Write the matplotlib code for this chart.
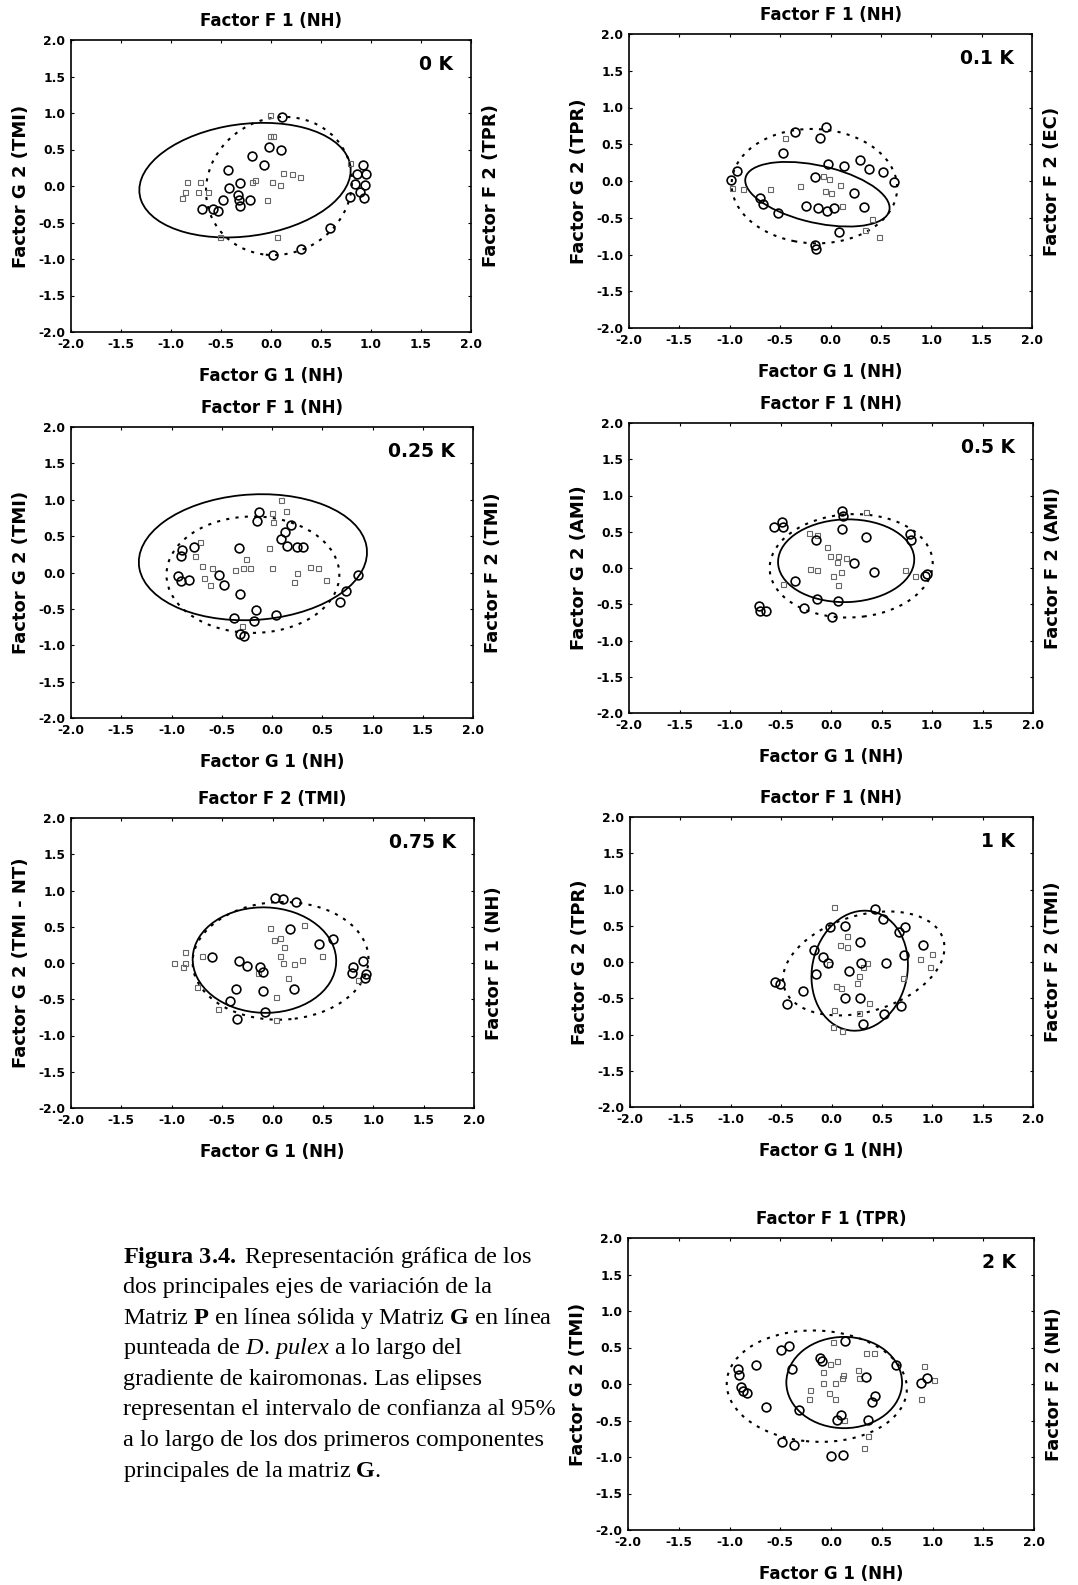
import matplotlib
matplotlib.use("Agg")
import matplotlib.pyplot as plt
from matplotlib.patches import Ellipse
from matplotlib.ticker import FormatStrFormatter, MultipleLocator
from matplotlib.transforms import offset_copy

plt.rcParams['axes.unicode_minus'] = False
plt.rcParams['mathtext.fontset'] = 'custom'
plt.rcParams['mathtext.rm'] = 'Liberation Serif'
plt.rcParams['mathtext.it'] = 'Liberation Serif:italic'
plt.rcParams['mathtext.bf'] = 'Liberation Serif:bold'

# panel tags and axis titles
tags = ['0 K', '0.1 K', '0.25 K', '0.5 K', '0.75 K', '1 K', '2 K']
top_labels = ['Factor F 1 (NH)', 'Factor F 1 (NH)', 'Factor F 1 (NH)', 'Factor F 1 (NH)',
              'Factor F 2 (TMI)', 'Factor F 1 (NH)', 'Factor F 1 (TPR)']
left_labels = ['Factor G 2 (TMI)', 'Factor G 2 (TPR)', 'Factor G 2 (TMI)', 'Factor G 2 (AMI)',
               'Factor G 2 (TMI - NT)', 'Factor G 2 (TPR)', 'Factor G 2 (TMI)']
right_labels = ['Factor F 2 (TPR)', 'Factor F 2 (EC)', 'Factor F 2 (TMI)', 'Factor F 2 (AMI)',
                'Factor F 1 (NH)', 'Factor F 2 (TMI)', 'Factor F 2 (NH)']
bottom_label = 'Factor G 1 (NH)'

# ellipses: (center x, center y, width, height, angle)
solid_ell = [(-0.26, 0.08, 2.15, 1.52, 15), (-0.13, -0.18, 1.50, 0.76, -20),
             (-0.19, 0.21, 2.28, 1.72, 8), (0.15, 0.10, 1.35, 1.14, 5),
             (-0.08, 0.04, 1.42, 1.46, 20), (0.28, -0.12, 0.95, 1.66, -5),
             (0.13, 0.02, 1.14, 1.25, 0)]
dotted_ell = [(0.08, 0.0, 1.45, 1.90, -8), (-0.16, -0.07, 1.65, 1.55, -15),
              (-0.19, -0.03, 1.72, 1.60, 0), (0.20, 0.03, 1.62, 1.42, 10),
              (0.08, 0.03, 1.75, 1.62, 10), (0.32, -0.02, 1.75, 1.25, 35),
              (-0.14, -0.03, 1.78, 1.52, -8)]

# circles per panel
circ_0k = [(0.11, 0.94), (-0.02, 0.54), (0.10, 0.50), (-0.19, 0.41), (-0.07, 0.29), (-0.43, 0.22),
           (-0.31, 0.04), (-0.42, -0.03), (-0.33, -0.13), (-0.32, -0.19), (-0.31, -0.28), (-0.21, -0.19),
           (-0.48, -0.19), (-0.58, -0.32), (-0.53, -0.34), (-0.69, -0.31), (0.92, 0.29), (0.95, 0.17),
           (0.86, 0.17), (0.84, 0.03), (0.94, 0.01), (0.89, -0.08), (0.93, -0.17), (0.79, -0.15),
           (0.59, -0.58), (0.30, -0.86), (0.02, -0.95)]
circ_01k = [(-0.04, 0.73), (-0.10, 0.58), (-0.35, 0.67), (-0.47, 0.38), (-0.93, 0.14), (-0.99, 0.02),
            (-0.02, 0.23), (0.13, 0.21), (0.29, 0.28), (0.38, 0.16), (0.52, 0.12), (0.63, -0.01),
            (-0.15, 0.06), (0.23, -0.17), (0.33, -0.36), (-0.24, -0.34), (-0.12, -0.37), (-0.03, -0.41),
            (0.03, -0.37), (-0.70, -0.23), (-0.67, -0.31), (-0.52, -0.44), (0.08, -0.69), (-0.15, -0.87),
            (-0.14, -0.93)]
circ_025k = [(-0.90, 0.31), (-0.91, 0.23), (-0.78, 0.35), (-0.94, -0.05), (-0.91, -0.12), (-0.83, -0.10),
             (-0.53, -0.03), (-0.48, -0.17), (-0.33, 0.33), (-0.32, -0.29), (-0.13, 0.83), (-0.15, 0.71),
             (0.19, 0.65), (0.13, 0.56), (0.09, 0.46), (0.15, 0.36), (0.25, 0.35), (0.31, 0.35),
             (0.86, -0.04), (0.74, -0.26), (0.68, -0.41), (-0.16, -0.52), (-0.18, -0.66), (-0.38, -0.63),
             (0.04, -0.58), (-0.32, -0.84), (-0.28, -0.87)]
circ_05k = [(-0.56, 0.57), (-0.49, 0.63), (-0.48, 0.57), (0.11, 0.79), (0.12, 0.72), (0.11, 0.54),
            (-0.15, 0.38), (0.35, 0.43), (0.78, 0.47), (0.79, 0.38), (0.23, 0.07), (0.43, -0.06),
            (0.95, -0.08), (0.93, -0.11), (-0.36, -0.18), (-0.14, -0.43), (0.07, -0.46), (-0.27, -0.55),
            (0.01, -0.67), (-0.71, -0.52), (-0.64, -0.59), (-0.70, -0.59)]
circ_075k = [(0.02, 0.90), (0.10, 0.88), (0.23, 0.84), (0.17, 0.47), (0.46, 0.26), (0.60, 0.33),
             (-0.60, 0.08), (-0.33, 0.03), (-0.25, -0.04), (-0.12, -0.06), (-0.09, -0.13), (-0.36, -0.36),
             (-0.09, -0.38), (0.21, -0.36), (-0.42, -0.53), (-0.07, -0.68), (-0.35, -0.77), (0.80, -0.06),
             (0.79, -0.14), (0.90, 0.03), (0.93, -0.15), (0.92, -0.20)]
circ_1k = [(0.43, 0.73), (0.51, 0.60), (0.73, 0.48), (0.67, 0.41), (0.91, 0.24), (0.72, 0.09),
           (0.28, 0.27), (0.13, 0.50), (-0.01, 0.48), (-0.17, 0.16), (-0.08, 0.07), (-0.03, -0.02),
           (0.29, -0.01), (0.54, -0.02), (0.17, -0.12), (-0.15, -0.17), (-0.56, -0.27), (-0.51, -0.30),
           (-0.28, -0.40), (-0.44, -0.58), (0.13, -0.50), (0.28, -0.49), (0.69, -0.61), (0.52, -0.72),
           (0.31, -0.86)]
circ_2k = [(0.14, 0.59), (-0.41, 0.52), (-0.49, 0.46), (-0.74, 0.26), (-0.92, 0.21), (-0.91, 0.12),
           (-0.89, -0.04), (-0.87, -0.10), (-0.83, -0.12), (-0.38, 0.21), (-0.11, 0.35), (-0.09, 0.31),
           (0.34, 0.09), (0.89, 0.02), (0.95, 0.08), (0.43, -0.16), (0.40, -0.24), (-0.64, -0.31),
           (-0.32, -0.35), (0.10, -0.43), (0.06, -0.49), (0.36, -0.49), (-0.48, -0.79), (-0.36, -0.84),
           (0.0, -0.99), (0.12, -0.97), (0.64, 0.26)]

# small squares per panel
sq_0k = [(-0.01, 0.97), (-0.01, 0.68), (0.02, 0.68), (0.12, 0.18), (0.21, 0.17), (0.29, 0.13),
         (0.01, 0.06), (0.09, 0.01), (-0.19, 0.06), (-0.16, 0.08), (-0.04, -0.19), (-0.89, -0.17),
         (-0.84, 0.06), (-0.71, 0.06), (-0.73, -0.08), (-0.63, -0.08), (-0.86, -0.08), (0.06, -0.70),
         (-0.51, -0.70), (0.79, 0.31)]
sq_01k = [(-0.45, 0.58), (-0.07, 0.07), (-0.01, 0.03), (0.09, -0.05), (-0.30, -0.07), (-0.60, -0.11),
          (-0.87, -0.11), (-0.98, -0.09), (0.0, -0.16), (0.11, -0.34), (0.41, -0.52), (0.48, -0.76),
          (0.34, -0.66), (-0.05, -0.14)]
sq_025k = [(0.09, 0.99), (0.14, 0.85), (0.0, 0.82), (0.01, 0.70), (-0.72, 0.42), (-0.77, 0.23),
           (-0.70, 0.09), (-0.60, 0.06), (-0.68, -0.08), (-0.62, -0.17), (-0.37, 0.04), (-0.26, 0.18),
           (-0.29, 0.06), (-0.22, 0.06), (-0.03, 0.33), (0.0, 0.06), (0.25, -0.01), (0.22, -0.13),
           (0.38, 0.08), (0.46, 0.06), (0.54, -0.10), (-0.30, -0.73)]
sq_05k = [(0.35, 0.77), (-0.22, 0.48), (-0.14, 0.45), (-0.04, 0.29), (-0.01, 0.16), (0.07, 0.16),
          (0.15, 0.14), (0.06, 0.08), (-0.21, -0.01), (-0.14, -0.03), (0.02, -0.11), (0.10, -0.05),
          (0.07, -0.24), (0.73, -0.03), (0.83, -0.11), (-0.48, -0.22)]
sq_075k = [(-0.02, 0.48), (0.01, 0.32), (0.07, 0.34), (0.11, 0.22), (0.31, 0.53), (0.07, 0.09),
           (0.10, 0.0), (0.21, -0.02), (0.29, 0.04), (0.49, 0.09), (0.15, -0.20), (0.03, -0.47),
           (0.03, -0.78), (-0.87, 0.15), (-0.87, 0.0), (-0.98, 0.0), (-0.89, -0.06), (-0.70, 0.10),
           (-0.75, -0.33), (-0.54, -0.63), (0.85, -0.23), (-0.14, -0.14)]
sq_1k = [(0.02, 0.76), (0.15, 0.36), (0.08, 0.24), (0.15, 0.21), (0.35, -0.01), (0.31, -0.07),
         (0.27, -0.19), (0.25, -0.29), (0.04, -0.33), (0.09, -0.36), (0.37, -0.56), (0.02, -0.66),
         (0.27, -0.70), (0.01, -0.89), (0.10, -0.95), (0.71, -0.22), (0.88, 0.04), (0.98, -0.07),
         (1.00, 0.11), (-0.02, -0.03)]
sq_2k = [(0.02, 0.58), (0.34, 0.43), (0.42, 0.42), (0.06, 0.32), (-0.01, 0.28), (0.27, 0.19),
         (0.12, 0.12), (-0.08, 0.17), (-0.08, 0.02), (0.04, 0.02), (0.11, 0.08), (0.28, 0.08),
         (-0.21, -0.08), (-0.22, -0.20), (-0.02, -0.13), (0.04, -0.20), (0.92, 0.24), (1.01, 0.05),
         (0.89, -0.20), (0.33, -0.87), (0.36, -0.71), (0.13, -0.49)]

circles = [circ_0k, circ_01k, circ_025k, circ_05k, circ_075k, circ_1k, circ_2k]
squares = [sq_0k, sq_01k, sq_025k, sq_05k, sq_075k, sq_1k, sq_2k]

# axes frames in pixels (left, right, top, bottom)
frames = [(71, 471, 40, 332), (629, 1032, 34, 328),
          (71, 473, 427, 718), (629, 1033, 423, 713),
          (71, 474, 818, 1108), (630, 1033, 817, 1107),
          (628, 1034, 1238, 1530)]

W, H = 1078, 1585
fig = plt.figure(figsize=(W / 100, H / 100), dpi=100)

for i in range(7):
    l, r, t, b = frames[i]
    ax = fig.add_axes([l / W, 1 - b / H, (r - l) / W, (b - t) / H])
    ax.set_xlim(-2, 2)
    ax.set_ylim(-2, 2)
    ax.xaxis.set_major_locator(MultipleLocator(0.5))
    ax.yaxis.set_major_locator(MultipleLocator(0.5))
    ax.xaxis.set_major_formatter(FormatStrFormatter('%.1f'))
    ax.yaxis.set_major_formatter(FormatStrFormatter('%.1f'))
    ax.tick_params(direction='in', length=2.5, width=0.8, top=True, right=True,
                   labelsize=8.8, pad=4)
    for lab in ax.get_xticklabels() + ax.get_yticklabels():
        lab.set_fontweight('bold')
    for sp in ax.spines.values():
        sp.set_linewidth(1.2)

    cx, cy, w, h, a = solid_ell[i]
    ax.add_patch(Ellipse((cx, cy), w, h, angle=a, fill=False, ec='black', lw=1.3))
    cx, cy, w, h, a = dotted_ell[i]
    ax.add_patch(Ellipse((cx, cy), w, h, angle=a, fill=False, ec='black', lw=1.5,
                         ls=(0, (1.5, 3.0))))

    sx = [p[0] for p in squares[i]]
    sy = [p[1] for p in squares[i]]
    ax.plot(sx, sy, 's', ms=3.6, mfc='none', mec='0.4', mew=0.8)
    px = [p[0] for p in circles[i]]
    py = [p[1] for p in circles[i]]
    ax.plot(px, py, 'o', ms=6.3, mfc='none', mec='black', mew=1.2)

    ax.text(1, 1, tags[i], transform=offset_copy(ax.transAxes, fig, x=-18, y=-15, units='dots'),
            ha='right', va='top', fontsize=13.5, fontweight='bold')
    ax.text(0.5, 1, top_labels[i], transform=offset_copy(ax.transAxes, fig, x=0, y=19, units='dots'),
            ha='center', va='center', fontsize=12, fontweight='bold')
    ax.text(0.5, 0, bottom_label, transform=offset_copy(ax.transAxes, fig, x=0, y=-44, units='dots'),
            ha='center', va='center', fontsize=12, fontweight='bold')
    ax.text(0, 0.5, left_labels[i], transform=offset_copy(ax.transAxes, fig, x=-50, y=0, units='dots'),
            ha='center', va='center', rotation=90, fontsize=13, fontweight='bold')
    ax.text(1, 0.5, right_labels[i], transform=offset_copy(ax.transAxes, fig, x=20, y=0, units='dots'),
            ha='center', va='center', rotation=90, fontsize=13, fontweight='bold')

# caption
caption = [r"$\mathbf{Figura\ 3.4.\ }$Representación gráfica de los",
           "dos principales ejes de variación de la",
           r"Matriz $\mathbf{P}$ en línea sólida y Matriz $\mathbf{G}$ en línea",
           r"punteada de $\mathit{D.\,pulex}$ a lo largo del",
           "gradiente de kairomonas. Las elipses",
           "representan el intervalo de confianza al 95%",
           "a lo largo de los dos primeros componentes",
           r"principales de la matriz $\mathbf{G}$."]
for k, line in enumerate(caption):
    y = 1257 + k * 30.6
    fig.text(123 / W, 1 - y / H, line, ha='left', va='center',
             fontsize=17.5, family='Liberation Serif')

fig.savefig('out.png', dpi=100)
